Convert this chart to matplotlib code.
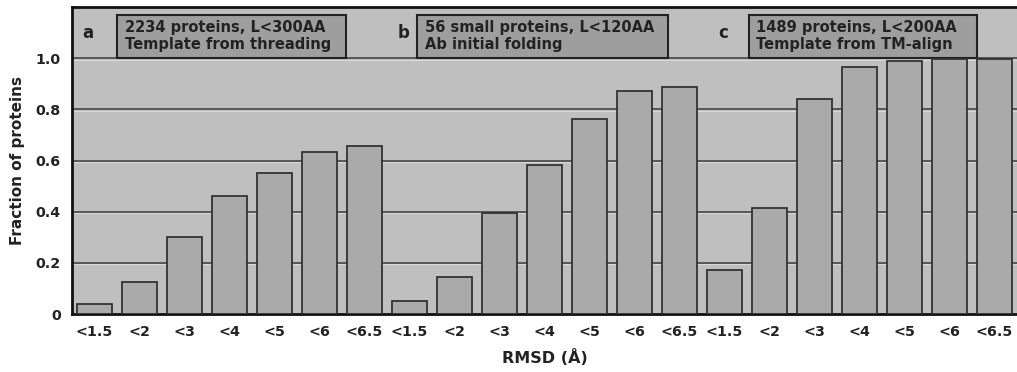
import matplotlib

matplotlib.use("Agg")
import matplotlib.pyplot as plt
from matplotlib.patches import Rectangle

plt.rcParams["font.family"] = ["DejaVu Sans"]
plt.rcParams["font.weight"] = "bold"

# RMSD cutoffs, one set per panel
cutoffs = ["<1.5", "<2", "<3", "<4", "<5", "<6", "<6.5"]
panels = ["a", "b", "c"]
panel_notes = [
    "2234 proteins, L<300AA\nTemplate from threading",
    "56 small proteins, L<120AA\nAb initial folding",
    "1489 proteins, L<200AA\nTemplate from TM-align",
]

# fraction of proteins below each cutoff
frac_a = [0.040, 0.126, 0.302, 0.461, 0.552, 0.632, 0.657]
frac_b = [0.051, 0.143, 0.393, 0.582, 0.762, 0.872, 0.888]
frac_c = [0.172, 0.415, 0.840, 0.966, 0.990, 0.995, 0.997]

values = frac_a + frac_b + frac_c
labels = cutoffs * 3
x = list(range(len(values)))

BG = "#bfbfbf"
BAR = "#aaaaaa"
BOX = "#9e9e9e"
INK = "#222222"

fig = plt.figure(figsize=(10.17, 3.72), dpi=100)
ax = fig.add_axes([72 / 1017, 1 - 314 / 372, 945 / 1017, 307 / 372])
ax.set_facecolor(BG)

ax.bar(x, values, width=0.76, color=BAR, edgecolor="#333333", linewidth=1.3, zorder=3)

ax.set_xlim(-0.5, len(values) - 0.5)
ax.set_ylim(0, 1.2)
ax.set_yticks([0, 0.2, 0.4, 0.6, 0.8, 1.0], ["0", "0.2", "0.4", "0.6", "0.8", "1.0"])
ax.set_xticks(x, labels)
ax.tick_params(length=0, labelsize=10.3, labelcolor=INK)
ax.tick_params(axis="x", pad=8)
ax.tick_params(axis="y", pad=8)
for yv in [0.2, 0.4, 0.6, 0.8, 1.0]:
    ax.axhline(yv, color="#3a3a3a", lw=1.1, zorder=1)
    ax.axhline(yv - 0.006, color="#d8d8d8", lw=0.8, zorder=0.9)

for side in ["left", "bottom", "top"]:
    ax.spines[side].set_linewidth(2)
    ax.spines[side].set_color("#111111")
ax.spines["right"].set_visible(False)

# header: panel letter and description box
letter_x = [-0.14, 6.86, 13.97]
box_x0 = [0.50, 7.17, 14.54]
box_x1 = [5.58, 12.74, 19.60]
for letter, note, lx, x0, x1 in zip(panels, panel_notes, letter_x, box_x0, box_x1):
    ax.text(lx, 1.098, letter, fontsize=12, color=INK, ha="center", va="center")
    ax.add_patch(
        Rectangle((x0, 1.0), x1 - x0, 0.169, facecolor=BOX, edgecolor="#222222",
                  linewidth=1.5, zorder=2)
    )
    ax.text(x0 + 0.17, 1.086, note, fontsize=10.5, color=INK, ha="left", va="center",
            linespacing=1.2, zorder=4)

ax.set_ylabel("Fraction of proteins", fontsize=11, fontweight="bold", color=INK,
              labelpad=8)
ax.set_xlabel("RMSD (Å)", fontsize=11.5, fontweight="bold", color=INK, labelpad=7)

fig.savefig("out.png", dpi=100)
